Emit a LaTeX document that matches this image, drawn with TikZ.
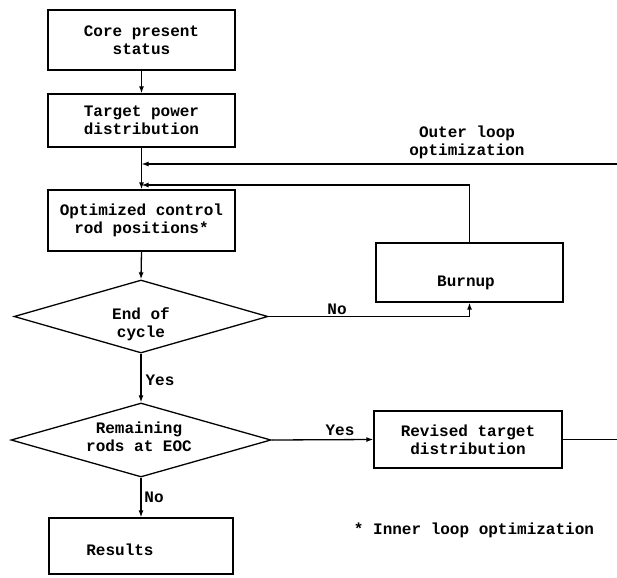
\documentclass[tikz,border=0pt]{standalone}
\usepackage{fontspec}
\setmainfont{Liberation Mono}
\usetikzlibrary{shapes.geometric,arrows.meta}
\begin{document}
\begin{tikzpicture}[x=1pt,y=-1pt,
  line width=1.3pt,
  txt/.style={font=\fontsize{16}{18}\selectfont\bfseries, align=center, inner sep=0pt},
  box/.style={draw, rectangle, inner sep=0pt, minimum width=187pt, txt},
  dia/.style={draw, diamond, inner sep=0pt},
  arr/.style={-{Latex[length=7pt,width=5pt]}}]
\useasboundingbox (0,0) rectangle (617,577);

% boxes
\node[box, minimum height=60pt] (core) at (141.5,40) {Core present\\status};
\node[box, minimum height=53pt] (target) at (141.5,120.5) {Target power\\distribution};
\node[box, minimum height=61pt] (opt) at (141.5,220.5) {Optimized control\\rod positions*};
\node[dia, minimum width=254pt, minimum height=73pt] (endd) at (141,316.5) {};
\node[txt] (endt) at (141,324) {End of\\cycle};
\node[box, minimum height=59pt] (burn) at (469.5,272.5) {};
\node[txt] (burnt) at (466,283) {Burnup};
\node[dia, minimum width=260pt, minimum height=74pt] (remd) at (141,440) {};
\node[txt] (remt) at (139,437) {Remaining\\rods at EOC};
\node[box, minimum width=188pt, minimum height=57pt] (rev) at (468,439.5) {Revised target\\distribution};
\node[box, minimum width=184pt, minimum height=56pt] (res) at (141,546) {};
\node[txt] (rest) at (120,550) {Results};

% labels
\node[txt] (outl) at (467,142.5) {Outer loop\\optimization};
\node[txt] (no1) at (337,309) {No};
\node[txt] (yes1) at (160,380) {Yes};
\node[txt] (yes2) at (340,430) {Yes};
\node[txt] (no2) at (154,497) {No};
\node[txt] (foot) at (474,530) {*\ Inner loop optimization};

% free ends / junctions
\coordinate (j1) at (141.5,164);
\coordinate (j2) at (141.5,185);
\coordinate (outR) at (617,164);
\coordinate (revR) at (617,439.5);

% connectors
\draw[arr] (core.south) -- (target.north);
\draw[arr] (target.south) -- (opt.north);
\draw[arr] (outR) -- (j1);
\draw[arr] (burn.north) |- (j2);
\draw[arr] (opt.south) -- (endd.north);
\draw[arr] (endd.east) -| (burn.south);
\draw[arr] (endd.south) -- (remd.north);
\draw[arr] (remd.east) -- (rev.west);
\draw (rev.east) -- (revR);
\draw[arr] (remd.south) -- (res.north);
\end{tikzpicture}
\end{document}
